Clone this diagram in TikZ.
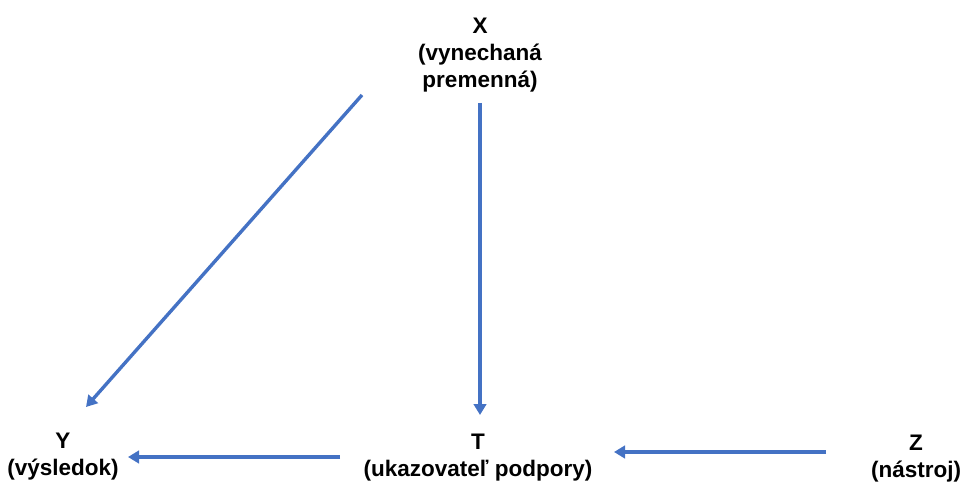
\documentclass[tikz,border=0pt]{standalone}
\usepackage{fontspec}
\setmainfont{Liberation Sans}
\usetikzlibrary{arrows.meta}
\definecolor{accent}{HTML}{4472C4}
\tikzset{
  lbl/.style={align=center, font=\bfseries\fontsize{22.5bp}{27bp}\selectfont, inner sep=0pt},
  arr/.style={draw=accent, line width=3.4bp, -{Triangle[length=11bp,width=12.5bp]}}
}
\begin{document}
\begin{tikzpicture}[x=1bp,y=-1bp]
\useasboundingbox (0,0) rectangle (964,483);
\node[lbl] (X) at (480,55) {X\\(vynechaná\\premenná)};
\node[lbl] (Y) at (63,457) {Y\\(výsledok)};
\node[lbl] (T) at (478,458) {T\\(ukazovateľ podpory)};
\node[lbl] (Z) at (916,459) {Z\\(nástroj)};
\coordinate (xa) at (362,95);
\coordinate (ya) at (86,407);
\coordinate (xb) at (480,103);
\coordinate (tb) at (480,415);
\coordinate (tc) at (340,457);
\coordinate (yc) at (128,457);
\coordinate (zd) at (826,452);
\coordinate (td) at (614,452);
\draw[arr] (xa) -- (ya);
\draw[arr] (xb) -- (tb);
\draw[arr] (tc) -- (yc);
\draw[arr] (zd) -- (td);
\end{tikzpicture}
\end{document}
